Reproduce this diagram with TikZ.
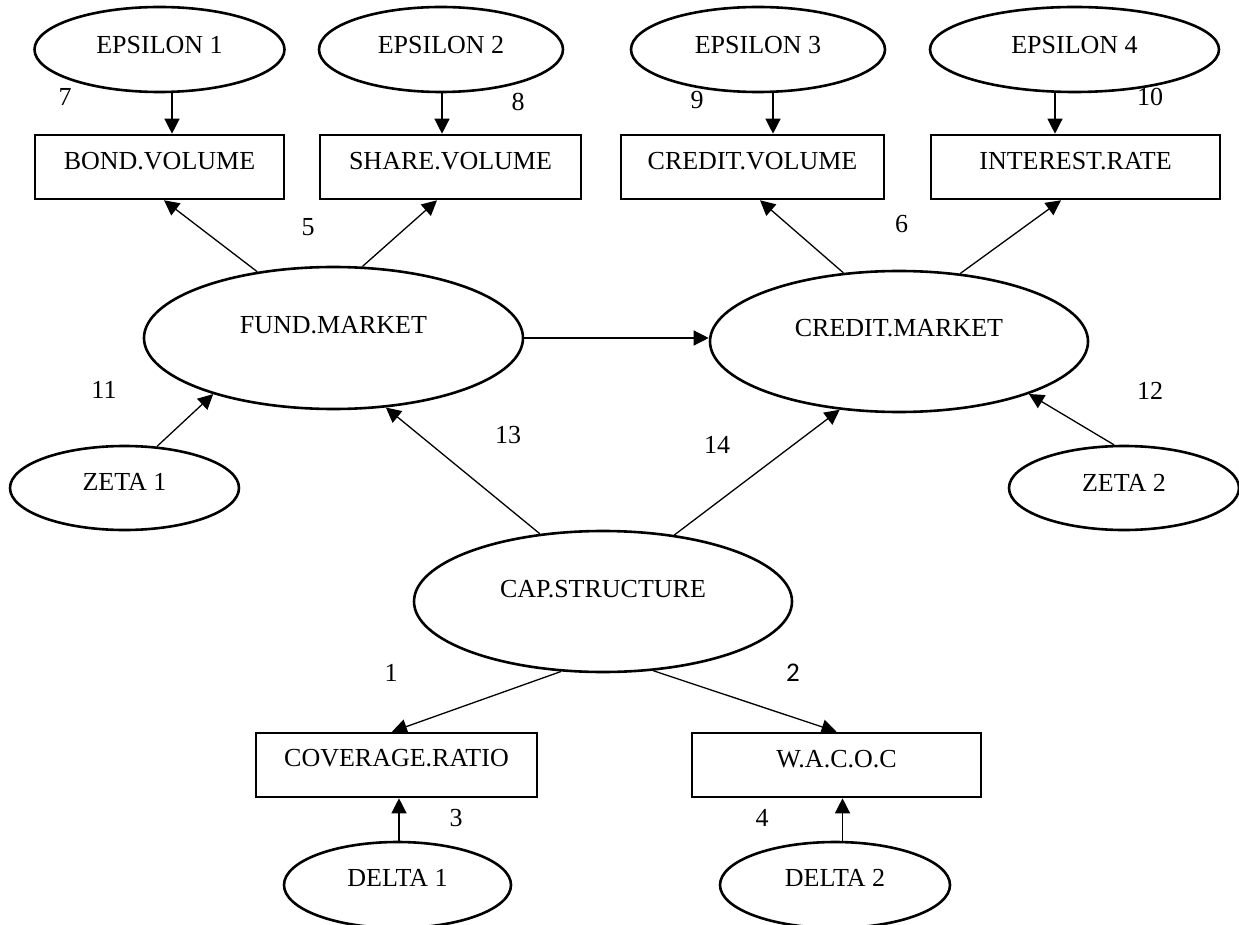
\documentclass[tikz,border=0pt]{standalone}
\usepackage{fontspec}
\setmainfont{Liberation Serif}
\newfontfamily\calibfont{Carlito}
\usetikzlibrary{shapes.geometric,arrows.meta}
\begin{document}
\begin{tikzpicture}[x=1pt,y=-1pt,
  every node/.style={font=\fontsize{26}{30}\selectfont},
  ell/.style={ellipse,draw,line width=2.6pt,inner sep=0pt},
  box/.style={rectangle,draw,line width=2.6pt,inner sep=0pt,minimum height=64pt},
  conn/.style={line width=1.3pt,-{Triangle[length=15pt,width=15pt]}},
  num/.style={inner sep=0pt}]
\useasboundingbox (0,0) rectangle (1239,925);
% top ellipses
\node[ell,minimum width=250pt,minimum height=85pt,text depth=9pt] (e1) at (159.5,49.5) {EPSILON 1};
\node[ell,minimum width=244pt,minimum height=85pt,text depth=9pt] (e2) at (441,49.5) {EPSILON 2};
\node[ell,minimum width=254pt,minimum height=85pt,text depth=9pt] (e3) at (758,49.5) {EPSILON 3};
\node[ell,minimum width=289pt,minimum height=85pt,text depth=9pt] (e4) at (1074.5,49.5) {EPSILON 4};
% top boxes
\node[box,minimum width=249pt,text depth=12pt] (b1) at (159.5,167) {BOND.VOLUME};
\node[box,minimum width=261pt,text depth=12pt] (b2) at (450.5,167) {SHARE.VOLUME};
\node[box,minimum width=263pt,text depth=12pt] (b3) at (752.5,167) {CREDIT.VOLUME};
\node[box,minimum width=289pt,text depth=12pt] (b4) at (1075.5,167) {INTEREST.RATE};
% markets
\node[ell,minimum width=379pt,minimum height=142pt,text depth=26pt] (fund) at (333.5,338) {FUND.MARKET};
\node[ell,minimum width=378pt,minimum height=141pt,text depth=27pt] (credit) at (899,341.5) {CREDIT.MARKET};
\node[ell,minimum width=229pt,minimum height=84pt,text depth=12pt] (z1) at (124.5,488) {ZETA 1};
\node[ell,minimum width=230pt,minimum height=84pt,text depth=10pt] (z2) at (1124,488) {ZETA 2};
\node[ell,minimum width=378pt,minimum height=141pt,text depth=25pt] (cap) at (603,601.5) {CAP.STRUCTURE};
% bottom
\node[box,minimum width=281pt,text depth=14pt] (cov) at (396.5,765) {COVERAGE.RATIO};
\node[box,minimum width=289pt,text depth=12pt] (wacoc) at (836.5,765) {W.A.C.O.C};
\node[ell,minimum width=227pt,minimum height=86pt,text depth=14pt] (d1) at (397.5,885) {DELTA 1};
\node[ell,minimum width=230pt,minimum height=86pt,text depth=14pt] (d2) at (835,885) {DELTA 2};
% connectors
\draw[conn] ([xshift=12.5pt]e1.south) -- ([xshift=12.5pt]b1.north);
\draw[conn] ([xshift=1pt]e2.south) -- ([xshift=-8.5pt]b2.north);
\draw[conn] ([xshift=15pt]e3.south) -- ([xshift=20.5pt]b3.north);
\draw[conn] ([xshift=-19.5pt]e4.south) -- ([xshift=-20.5pt]b4.north);
\draw[conn] (fund.139.5) -- ([xshift=4.5pt]b1.south);
\draw[conn] (fund.68) -- ([xshift=-13.5pt]b2.south);
\draw[conn] (credit.129.4) -- ([xshift=7.5pt]b3.south);
\draw[conn] (credit.48.7) -- ([xshift=-14.5pt]b4.south);
\draw[conn] (fund.east) -- (fund.east -| credit.west);
\draw[conn] (z1.52) -- (fund.205.3);
\draw[conn] (z2.103.7) -- (credit.338.8);
\draw[conn] (cap.133.4) -- (fund.307);
\draw[conn] (cap.43) -- (credit.229.8);
\draw[conn] (cap.239.2) -- ([xshift=-4.5pt]cov.north);
\draw[conn] (cap.306.9) -- (wacoc.north);
\draw[conn] ([xshift=1.5pt]d1.north) -- ([xshift=2.5pt]cov.south);
\draw[conn] ([xshift=7.5pt]d2.north) -- ([xshift=6pt]wacoc.south);
% numbers
\node[num] (n1) at (391,673) {1};
\node[num,font=\calibfont\fontsize{27}{30}\selectfont] (n2) at (793,673) {2};
\node[num] (n3) at (456,818) {3};
\node[num] (n4) at (762,818) {4};
\node[num] (n5) at (308,227) {5};
\node[num] (n6) at (901.5,224) {6};
\node[num] (n7) at (65,97) {7};
\node[num] (n8) at (518,102) {8};
\node[num] (n9) at (697,100) {9};
\node[num] (n10) at (1150,97) {10};
\node[num] (n11) at (104,390) {11};
\node[num] (n12) at (1150,391) {12};
\node[num] (n13) at (508,435) {13};
\node[num] (n14) at (717,445) {14};
\end{tikzpicture}
\end{document}
